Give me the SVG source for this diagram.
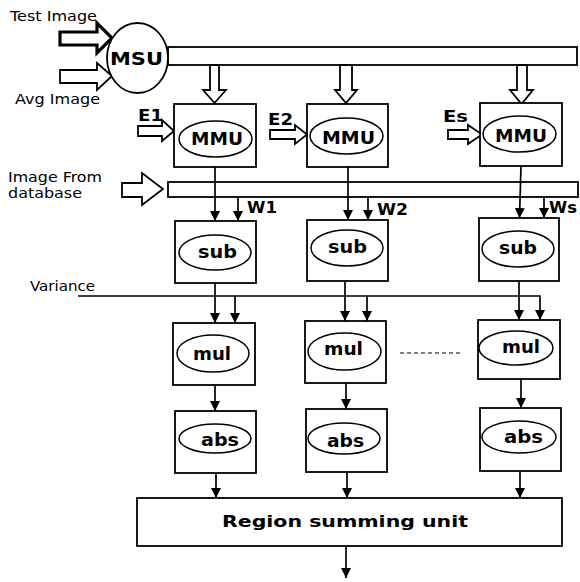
<svg xmlns="http://www.w3.org/2000/svg" width="580" height="582" viewBox="0 0 580 582">
<style>
.box{fill:#fff;stroke:#000;stroke-width:1.8}
.ell{fill:none;stroke:#000;stroke-width:1.5}
.bar{fill:#fff;stroke:#000;stroke-width:1.8}
.blk{fill:#fff;stroke:#000;stroke-width:1.8;stroke-linejoin:miter}
.ln{fill:none;stroke:#000;stroke-width:1.7}
.lbl{font-family:"DejaVu Sans",sans-serif;font-size:13.5px;fill:#000}
.bl{font-family:"DejaVu Sans",sans-serif;font-size:16px;font-weight:bold;fill:#000}
.nd{font-family:"DejaVu Sans",sans-serif;font-size:18px;font-weight:bold;fill:#000;text-anchor:start}
</style>
<defs>
<marker id="ah" markerUnits="userSpaceOnUse" markerWidth="11" markerHeight="11" refX="10" refY="5" orient="auto">
<path d="M0,0 L10,5 L0,10 z" fill="#000"/>
</marker>
</defs>

<g id="labels">
<text class="lbl" x="10" y="21" textLength="87" lengthAdjust="spacingAndGlyphs">Test Image</text>
<text class="lbl" x="15" y="104" textLength="85" lengthAdjust="spacingAndGlyphs">Avg Image</text>
<text class="lbl" x="8" y="182" textLength="94" lengthAdjust="spacingAndGlyphs">Image From</text>
<text class="lbl" x="8" y="198" textLength="74" lengthAdjust="spacingAndGlyphs">database</text>
<text class="lbl" x="30" y="291" textLength="65" lengthAdjust="spacingAndGlyphs">Variance</text>
<text class="bl" x="138" y="121" textLength="25" lengthAdjust="spacingAndGlyphs">E1</text>
<text class="bl" x="268" y="125" textLength="25" lengthAdjust="spacingAndGlyphs">E2</text>
<text class="bl" x="443" y="122" textLength="25" lengthAdjust="spacingAndGlyphs">Es</text>
<text class="bl" x="247" y="213" textLength="30" lengthAdjust="spacingAndGlyphs">W1</text>
<text class="bl" x="377" y="215" textLength="31" lengthAdjust="spacingAndGlyphs">W2</text>
<text class="bl" x="549" y="213" textLength="28" lengthAdjust="spacingAndGlyphs">Ws</text>
</g>

<g id="inputs">
<polygon class="blk" style="stroke-width:3.2" points="60,32 97,32 97,23 112,38 97,53 97,45 60,45"/>
<polygon class="blk" points="60,70 97,70 97,63 112,76 97,90 97,83 60,83"/>
<polygon class="blk" points="122,183 142,183 142,173 163,189 142,205 142,197 122,197"/>
<polygon class="blk" points="138,126 162,126 162,120 174,131 162,141 162,136 138,136"/>
<polygon class="blk" points="270,130 295,130 295,125 307,134.5 295,144 295,139 270,139"/>
<polygon class="blk" points="448,130 468,130 468,125 482,134.5 468,144 468,139 448,139"/>
</g>

<g id="bus1"><rect class="bar" x="168" y="47" width="409" height="18"/></g>
<g id="bus2"><rect class="bar" x="168" y="182" width="410" height="15"/></g>

<g id="msu">
<ellipse cx="137.5" cy="58" rx="30.5" ry="35" fill="#fff" stroke="#000" stroke-width="1.8"/>
<text class="nd" x="110" y="65" textLength="53" lengthAdjust="spacingAndGlyphs">MSU</text>
</g>

<g id="down-arrows">
<polygon class="blk" points="210,65 219,65 219,90 226,90 214.5,103 203,90 210,90"/>
<polygon class="blk" points="340,65 352,65 352,90 357,90 346,103 335,90 340,90"/>
<polygon class="blk" points="517,65 527,65 527,90 533,90 521.5,104 510,90 517,90"/>
</g>

<g id="mmu1"><rect class="box" x="174" y="104" width="82" height="63"/><ellipse class="ell" cx="215.5" cy="139" rx="36.5" ry="18"/><text class="nd" x="191" y="145" textLength="52" lengthAdjust="spacingAndGlyphs">MMU</text></g>
<g id="mmu2"><rect class="box" x="307" y="104" width="81" height="63"/><ellipse class="ell" cx="346.5" cy="136" rx="36.5" ry="18"/><text class="nd" x="322" y="144" textLength="53" lengthAdjust="spacingAndGlyphs">MMU</text></g>
<g id="mmu3"><rect class="box" x="480" y="103" width="82" height="63"/><ellipse class="ell" cx="519.5" cy="134" rx="36.5" ry="18"/><text class="nd" x="495" y="142" textLength="52" lengthAdjust="spacingAndGlyphs">MMU</text></g>

<g id="sub1"><rect class="box" x="175" y="221" width="81" height="62"/><ellipse class="ell" cx="215" cy="252.5" rx="36" ry="17.5"/><text class="nd" x="198" y="258" textLength="39" lengthAdjust="spacingAndGlyphs">sub</text></g>
<g id="sub2"><rect class="box" x="307" y="220" width="81" height="61"/><ellipse class="ell" cx="347" cy="248" rx="36" ry="18"/><text class="nd" x="328" y="253" textLength="39" lengthAdjust="spacingAndGlyphs">sub</text></g>
<g id="sub3"><rect class="box" x="479" y="218" width="80" height="63"/><ellipse class="ell" cx="518" cy="249" rx="36" ry="18"/><text class="nd" x="499" y="254" textLength="38" lengthAdjust="spacingAndGlyphs">sub</text></g>

<g id="mul1"><rect class="box" x="173" y="323" width="82" height="62"/><ellipse class="ell" cx="213" cy="353.5" rx="36" ry="18.5"/><text class="nd" x="193" y="360" textLength="38" lengthAdjust="spacingAndGlyphs">mul</text></g>
<g id="mul2"><rect class="box" x="305" y="321" width="81" height="62"/><ellipse class="ell" cx="344.5" cy="351.5" rx="36.5" ry="18.5"/><text class="nd" x="324" y="355" textLength="39" lengthAdjust="spacingAndGlyphs">mul</text></g>
<g id="mul3"><rect class="box" x="478" y="320" width="82" height="59"/><ellipse class="ell" cx="516" cy="348" rx="37" ry="17"/><text class="nd" x="502" y="353" textLength="38" lengthAdjust="spacingAndGlyphs">mul</text></g>

<g id="abs1"><rect class="box" x="175" y="411" width="81" height="62"/><ellipse class="ell" cx="215" cy="438.5" rx="36" ry="14.5"/><text class="nd" x="201" y="446" textLength="38" lengthAdjust="spacingAndGlyphs">abs</text></g>
<g id="abs2"><rect class="box" x="306" y="409" width="81" height="63"/><ellipse class="ell" cx="344" cy="438.5" rx="36" ry="15.5"/><text class="nd" x="327" y="447" textLength="37" lengthAdjust="spacingAndGlyphs">abs</text></g>
<g id="abs3"><rect class="box" x="480" y="408" width="81" height="63"/><ellipse class="ell" cx="519" cy="437" rx="37" ry="16"/><text class="nd" x="504" y="443" textLength="39" lengthAdjust="spacingAndGlyphs">abs</text></g>

<g id="region"><rect class="box" x="137" y="498" width="425" height="48"/><text class="bl" x="222" y="527" textLength="246" lengthAdjust="spacingAndGlyphs">Region summing unit</text></g>

<g id="connectors">
<line class="ln" x1="215" y1="167" x2="215" y2="221" marker-end="url(#ah)"/>
<line class="ln" x1="348" y1="167" x2="348" y2="220" marker-end="url(#ah)"/>
<line class="ln" x1="521" y1="166" x2="519.5" y2="218" marker-end="url(#ah)"/>
<line class="ln" x1="238" y1="197" x2="238" y2="221" marker-end="url(#ah)"/>
<line class="ln" x1="368" y1="197" x2="368" y2="220" marker-end="url(#ah)"/>
<line class="ln" x1="544" y1="197" x2="544" y2="218" marker-end="url(#ah)"/>
<line class="ln" x1="215" y1="283" x2="215" y2="323" marker-end="url(#ah)"/>
<line class="ln" x1="345" y1="281" x2="345" y2="321" marker-end="url(#ah)"/>
<line class="ln" x1="519" y1="281" x2="519" y2="320" marker-end="url(#ah)"/>
<path class="ln" d="M78,296 H540 V320" marker-end="url(#ah)"/>
<line class="ln" x1="235" y1="296" x2="235" y2="323" marker-end="url(#ah)"/>
<line class="ln" x1="367" y1="296" x2="367" y2="321" marker-end="url(#ah)"/>
<line class="ln" x1="215" y1="385" x2="215" y2="411" marker-end="url(#ah)"/>
<line class="ln" x1="346" y1="383" x2="346" y2="409" marker-end="url(#ah)"/>
<line class="ln" x1="521" y1="379" x2="521" y2="408" marker-end="url(#ah)"/>
<line class="ln" x1="216" y1="473" x2="216" y2="498" marker-end="url(#ah)"/>
<line class="ln" x1="347" y1="472" x2="347" y2="498" marker-end="url(#ah)"/>
<line class="ln" x1="520" y1="471" x2="520" y2="498" marker-end="url(#ah)"/>
<line class="ln" x1="346" y1="546" x2="346" y2="578" marker-end="url(#ah)"/>
<line x1="400" y1="353" x2="462" y2="353" stroke="#000" stroke-width="1.2" stroke-dasharray="4,3"/>
</g>
</svg>
